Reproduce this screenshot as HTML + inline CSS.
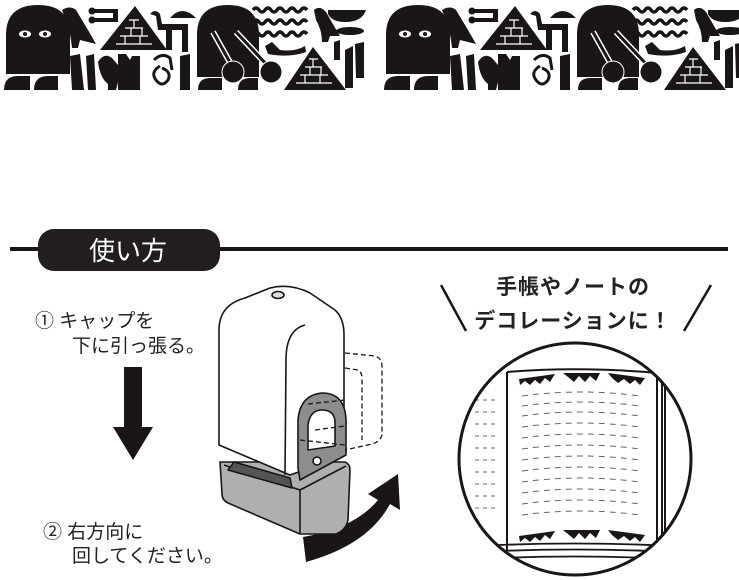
<!DOCTYPE html>
<html><head><meta charset="utf-8"><style>
html,body{margin:0;padding:0;background:#fff;width:739px;height:580px;overflow:hidden}
svg{display:block}
text{font-family:"Liberation Sans","Noto Sans CJK JP",sans-serif}
</style></head><body>
<svg width="739" height="580" viewBox="0 0 739 580" xmlns="http://www.w3.org/2000/svg">
<defs>
<g id="strip" fill="#1a1616">
 <path d="M6 74 L6 35 Q6 5 38 5 Q70 5 70 35 L70 74 Z"/>
 <path d="M4 90 Q4 76 18 76 L30 76 L30 90 Z"/><path d="M34 90 Q34 76 48 76 L58 76 L58 90 Z"/>
 <ellipse cx="25" cy="34" rx="6" ry="3.5" fill="#fff"/><ellipse cx="45" cy="34" rx="6" ry="3.5" fill="#fff"/>
 <circle cx="25" cy="34" r="2"/><circle cx="45" cy="34" r="2"/>
 <path d="M62 10 Q70 5 76 10 L88 30 L96 44 L80 40 L78 48 L72 48 Q70 30 66 20 Z"/>
 <path d="M90 9 L118 9 L118 22 L95 22 L95 18 L113 18 L113 13 L90 13 Z"/><circle cx="92" cy="11" r="3.5"/><circle cx="92" cy="20" r="3.5"/>
 <path d="M135 6 L167 50 L100 50 Z"/>
 <path d="M116 44 L152 44 M120 36 L148 36 M125 28 L143 28 M129 20 L139 20 M125 36 V44 M140 36 V44 M134 20 V28 M131 28 V36 M142 28 V36" stroke="#fff" stroke-width="1.2" fill="none"/>
 <path d="M150 14 Q155 8 160 14 L162 24 L188 24 L188 52 L182 52 L182 30 L172 30 L172 50 L166 50 L166 30 L158 30 L156 16 Z"/>
 <path d="M170 18 Q182 4 196 18 Z"/>
 <path d="M70 56 L80 54 L84 90 L72 90 Z"/><path d="M86 56 L94 54 L96 90 L88 90 Z"/>
 <path d="M98 62 Q104 52 112 58 L124 72 L118 82 L116 90 L108 90 L108 84 Q100 78 98 62 Z"/>
 <path d="M118 54 L126 54 L130 60 L132 56 L140 56 L140 90 L118 90 Z"/>
 <path d="M154 60 Q162 52 170 58 L172 70 M160 66 Q150 72 156 80 Q162 88 168 80 Q172 72 162 68" stroke="#1a1616" stroke-width="3" fill="none"/>
 <path d="M180 56 L190 54 L190 90 L180 90 Z"/>
 <path d="M197 77 L197 35 Q197 5 228 5 Q259 5 259 35 L259 77 Z"/>
 <path d="M198 90 Q198 78 210 78 L222 78 L222 90 Z"/><path d="M238 90 Q238 78 250 78 L258 78 L258 90 Z"/>
 <path d="M213 32 L232 66 M236 32 L268 66" stroke="#fff" stroke-width="6"/>
 <path d="M213 32 L232 66 M236 32 L268 66" stroke="#1a1616" stroke-width="3"/>
 <circle cx="233" cy="72" r="11" stroke="#fff" stroke-width="1"/><circle cx="271" cy="72" r="11" stroke="#fff" stroke-width="1"/>
 <path d="M253 10 q3 -4 6 0 t6 0 t6 0 t6 0 t6 0 t6 0 t6 0 t6 0 t6 0 M253 22 q3 -4 6 0 t6 0 t6 0 t6 0 t6 0 t6 0 t6 0 t6 0 t6 0 M253 34 q3 -4 6 0 t6 0 t6 0 t6 0 t6 0 t6 0 t6 0 t6 0 t6 0" stroke="#1a1616" stroke-width="3.5" fill="none"/>
 <path d="M265 46 L272 42 L280 50 Q295 52 305 46 L306 52 Q290 58 268 54 Z"/>
 <path d="M314 10 Q320 5 326 12 L334 26 L340 36 L330 36 L328 42 L322 42 Q322 30 316 20 Z"/>
 <path d="M328 10 L366 10 Q362 22 345 22 Q332 22 328 14 Z"/>
 <ellipse cx="350" cy="31" rx="14" ry="4"/>
 <path d="M313 47 L346 90 L284 90 Z"/>
 <path d="M296 83 L332 83 M300 75 L328 75 M305 67 L322 67 M309 59 L318 59 M305 75 V83 M320 75 V83 M313 59 V67 M310 67 V75 M321 67 V75" stroke="#fff" stroke-width="1.2" fill="none"/>
 <path d="M334 42 L340 40 L340 60 L334 60 Z"/>
 <path d="M345 50 L353 46 L353 88 L345 88 Z"/><path d="M355 44 L364 42 L364 78 L356 78 Z"/>
</g>
<clipPath id="cc"><circle cx="575" cy="459" r="116"/></clipPath>
</defs>

<use href="#strip"/>
<use href="#strip" x="380"/>

<rect x="10" y="247" width="718" height="4" fill="#1a1616"/>
<rect x="38" y="229" width="182" height="42" rx="16" fill="#231e1e"/>
<text x="128" y="260" font-size="26" fill="#fff" text-anchor="middle">使い方</text>

<text x="35" y="327" font-size="19" fill="#222">① キャップを</text>
<text x="72" y="352" font-size="19" fill="#222">下に引っ張る。</text>
<path d="M124 367 H142 V427 H153 L133 460 L113 427 H124 Z" fill="#1a1616"/>
<text x="43" y="538" font-size="19" fill="#222">② 右方向に</text>
<text x="72" y="562" font-size="19" fill="#222">回してください。</text>

<path d="M303 537 Q355 528 378 500 L368 494 L398 474 L400 510 L390 504 Q368 545 306 562 Z" fill="#1a1616"/>

<g stroke="#1a1616" stroke-width="1.6" stroke-linejoin="round">
 <path d="M220 462 L345 462 Q350 464 350 470 L348 520 Q346 530 336 534 L300 534 L228 503 Q222 500 222 494 Z" fill="#b0aeae"/>
 <path d="M224 465 L300 490 L346 466" fill="none"/>
 <path d="M228 470 L292 488 L290 478 L234 462 Z" fill="#555"/>
 <path d="M300 490 L300 533" fill="none"/>
 <path d="M219 440 L219 330 Q219 305 245 298 L270 288 Q290 283 310 293 L335 310 Q344 318 344 335 L344 456 L290 475 L219 445 Z" fill="#fff"/>
 <ellipse cx="278" cy="295" rx="6" ry="3.5" fill="#ddd"/>
 <path d="M285 475 L286 360 Q286 330 305 325" fill="none"/>
 <path d="M298 468 L298 420 Q300 395 322 393 Q345 393 346 420 L346 455 L300 480 Z" fill="#8e8c8c"/>
 <path d="M308 450 L308 425 Q310 410 322 410 Q336 410 335 425 L335 446 Z" fill="#fff"/>
 <circle cx="317" cy="461" r="4" fill="#fff"/>
</g>
<g stroke="#1a1616" stroke-width="1.3" stroke-dasharray="5 3" fill="none">
 <path d="M345 353 L375 356 Q382 358 382 366 L382 435 Q380 442 372 444 L345 450"/>
 <path d="M345 368 L358 370 Q362 372 362 378 L362 440"/>
 <path d="M308 404 L345 400 M315 430 L345 426 M300 440 L345 445"/>
</g>

<text x="573" y="294" font-size="21" font-weight="bold" fill="#222" text-anchor="middle" letter-spacing="1">手帳やノートの</text>
<text x="573" y="328" font-size="21" font-weight="bold" fill="#222" text-anchor="middle" letter-spacing="1">デコレーションに！</text>
<path d="M441 285 L466 331 M711 285 L684 331" stroke="#1a1616" stroke-width="2.5"/>

<g clip-path="url(#cc)" stroke="#1a1616" fill="none">
 <path d="M507 372 L507 550 M507 372 Q580 366 657 373 L657 545 M662 378 L662 545 M665 384 L665 540" stroke-width="2"/>
 <path d="M460 547 Q575 540 690 547 M460 553 Q575 546 690 553 M460 560 Q575 553 690 560" stroke-width="1.8"/>
 <g stroke-width="1" stroke-dasharray="6 5" stroke="#666">
  <path d="M522 396 Q580 388 640 396 M522 406 Q580 398 640 406 M522 416 Q580 408 640 416 M522 427 Q580 419 640 427 M522 438 Q580 430 640 438 M522 449 Q580 441 640 449 M522 460 Q580 452 640 460 M522 471 Q580 463 640 471 M522 482 Q580 474 640 482 M522 493 Q580 485 640 493 M522 504 Q580 496 640 504 M522 515 Q580 507 640 515"/>
  <path d="M475 400 H495 M475 412 H495 M475 424 H495 M475 436 H495 M475 448 H495 M475 460 H495 M475 472 H495 M475 484 H495 M475 496 H495 M475 508 H495" stroke-dasharray="4 4"/>
 </g>
 <g fill="#1a1616" stroke="none">
  <path d="M519 379 L555 374 L550 382 L545 378 L540 384 L535 380 L530 385 L525 381 L520 385 Z"/>
  <path d="M563 373 L600 373 L596 381 L590 376 L585 382 L579 376 L574 382 L568 377 Z"/>
  <path d="M608 373 L645 378 L640 385 L635 380 L630 384 L624 379 L618 383 L612 378 Z"/>
  <path d="M519 536 L555 531 L550 539 L545 535 L540 541 L535 537 L530 542 L525 538 L520 542 Z"/>
  <path d="M563 530 L600 530 L596 538 L590 533 L585 539 L579 533 L574 539 L568 534 Z"/>
  <path d="M608 530 L645 535 L640 542 L635 537 L630 541 L624 536 L618 540 L612 535 Z"/>
 </g>
</g>
<circle cx="575" cy="459" r="116" fill="none" stroke="#1a1616" stroke-width="3"/>
</svg>
</body></html>
